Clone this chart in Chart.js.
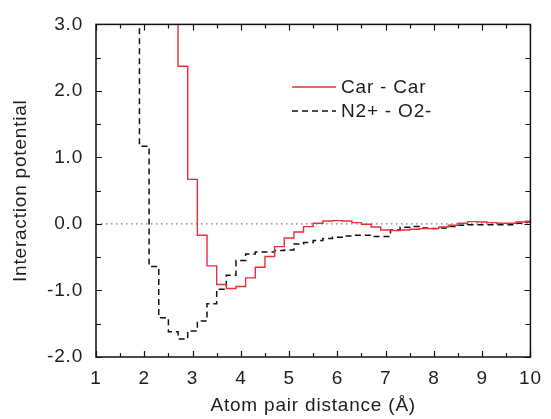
<!DOCTYPE html>
<html>
<head>
<meta charset="utf-8">
<script src="https://cdn.jsdelivr.net/npm/chart.js@4/dist/chart.umd.min.js"></script>
<style>
  html, body { margin: 0; padding: 0; background: #fff; }
</style>
</head>
<body>
<canvas id="potChart" width="551" height="419"></canvas>
<script>
// bin left edges (last entry = right edge of final bin)
const binEdges = [1.7, 1.9, 2.1, 2.3, 2.5, 2.7, 2.9, 3.1, 3.3, 3.5, 3.7, 3.9, 4.1, 4.3, 4.5, 4.7, 4.9,
  5.1, 5.3, 5.5, 5.7, 5.9, 6.1, 6.3, 6.5, 6.7, 6.9, 7.1, 7.3, 7.5, 7.7, 7.9, 8.1, 8.3, 8.5, 8.7, 8.9,
  9.1, 9.3, 9.5, 9.7, 9.9, 10.0];

const carCar = [null, null, null, null, 4.0, 2.37, 0.67, -0.17, -0.63, -0.91, -0.97, -0.94, -0.81, -0.65,
  -0.49, -0.34, -0.21, -0.12, -0.04, 0.01, 0.045, 0.05, 0.045, 0.02, -0.005, -0.045, -0.09, -0.10,
  -0.09, -0.08, -0.07, -0.07, -0.045, -0.02, 0.01, 0.035, 0.03, 0.02, 0.01, 0.01, 0.03, 0.04, 0.04];

const n2o2 = [4.0, 1.17, -0.64, -1.41, -1.62, -1.73, -1.61, -1.46, -1.20, -0.98, -0.77, -0.55, -0.45,
  -0.42, -0.42, -0.40, -0.39, -0.30, -0.28, -0.25, -0.22, -0.20, -0.18, -0.17, -0.17, -0.19, -0.19,
  -0.09, -0.05, -0.04, -0.06, -0.07, -0.06, -0.04, -0.02, -0.01, -0.01, -0.01, -0.01, -0.01, 0.01,
  0.03, 0.03];

const seriesNames = ['Car - Car', 'N2+ - O2-'];
const xRange = [1, 10];
const yRange = [-2, 3];
const zeroLine = [0, 0];

const FONT = "'Liberation Sans', Arial, Helvetica, sans-serif";
const TXT = '#1e1e1e';
const FS = 19;

const toPoints = vals => binEdges.map((x, i) => ({ x: x, y: vals[i] }));

// reference text is set a bit wider than Arial
const spacingPlugin = {
    id: 'spacing',
    beforeDraw(chart) { chart.ctx.letterSpacing = '0.8px'; }
};

// box frame with inward ticks + legend inside the plot
const framePlugin = {
    id: 'frame',
    afterDraw(chart) {
        const { ctx, chartArea: a, scales } = chart;
        const xs = scales.x, ys = scales.y;
        ctx.save();
        ctx.strokeStyle = '#111';
        ctx.lineWidth = 1.5;
        ctx.strokeRect(a.left, a.top, a.right - a.left, a.bottom - a.top);

        ctx.lineWidth = 1.2;
        ctx.beginPath();
        for (let v = xRange[0]; v <= xRange[1] + 1e-9; v += 0.5) {
            const px = Math.round(xs.getPixelForValue(v)) + 0.5;
            const len = Number.isInteger(v) ? 6 : 4;
            ctx.moveTo(px, a.bottom); ctx.lineTo(px, a.bottom - len);
            ctx.moveTo(px, a.top); ctx.lineTo(px, a.top + len);
        }
        for (let v = yRange[0]; v <= yRange[1] + 1e-9; v += 0.5) {
            const py = Math.round(ys.getPixelForValue(v)) + 0.5;
            const len = Number.isInteger(v) ? 6 : 5;
            ctx.moveTo(a.left, py); ctx.lineTo(a.left + len, py);
            ctx.moveTo(a.right, py); ctx.lineTo(a.right - len, py);
        }
        ctx.stroke();

        // legend
        ctx.font = FS + 'px ' + FONT;
        ctx.textBaseline = 'middle';
        ctx.fillStyle = TXT;
        const rows = [87, 111];
        chart.data.datasets.slice(0, 2).forEach((ds, i) => {
            ctx.strokeStyle = ds.borderColor;
            ctx.lineWidth = ds.borderWidth;
            ctx.setLineDash(ds.borderDash || []);
            ctx.beginPath();
            ctx.moveTo(292, rows[i]); ctx.lineTo(336, rows[i]);
            ctx.stroke();
            ctx.setLineDash([]);
            ctx.fillText(ds.label, 341, rows[i] + 1);
        });
        ctx.restore();
    }
};

const ctx = document.getElementById('potChart').getContext('2d');
const potChart = new Chart(ctx, {
    type: 'line',
    data: {
        datasets: [{
            label: seriesNames[0],
            data: toPoints(carCar),
            borderColor: '#e8303a',
            borderWidth: 1.4,
            stepped: true,
            pointRadius: 0,
            clip: 0
        }, {
            label: seriesNames[1],
            data: toPoints(n2o2),
            borderColor: '#111',
            borderWidth: 1.5,
            borderDash: [6, 4],
            stepped: true,
            pointRadius: 0,
            clip: 0
        }, {
            label: 'zero',
            data: xRange.map((x, i) => ({ x: x, y: zeroLine[i] })),
            borderColor: '#777',
            borderWidth: 1.2,
            borderDash: [1.5, 3.5],
            pointRadius: 0,
            clip: 0
        }]
    },
    options: {
        responsive: false,
        devicePixelRatio: 1,
        animation: false,
        layout: { padding: { top: 22, right: 13, bottom: 0, left: 0 } },
        plugins: {
            legend: { display: false },
            tooltip: { enabled: false }
        },
        scales: {
            x: {
                type: 'linear',
                min: xRange[0],
                max: xRange[1],
                grid: { display: false, drawTicks: false },
                border: { display: false },
                ticks: { stepSize: 1, color: TXT, padding: 10, font: { family: FONT, size: FS } },
                title: { display: true, text: 'Atom pair distance (Å)', color: TXT,
                    font: { family: FONT, size: FS }, padding: { top: 0, bottom: 2 } },
                afterFit: s => { s.height = 62; }
            },
            y: {
                min: yRange[0],
                max: yRange[1],
                grid: { display: false, drawTicks: false },
                border: { display: false },
                ticks: { stepSize: 1, color: TXT, padding: 13, font: { family: FONT, size: FS },
                    callback: v => v.toFixed(1) },
                title: { display: true, text: 'Interaction potential', color: TXT,
                    font: { family: FONT, size: FS }, padding: { top: 9, bottom: 0 } },
                afterFit: s => { s.width = 96; }
            }
        }
    },
    plugins: [spacingPlugin, framePlugin]
});
</script>
</body>
</html>
